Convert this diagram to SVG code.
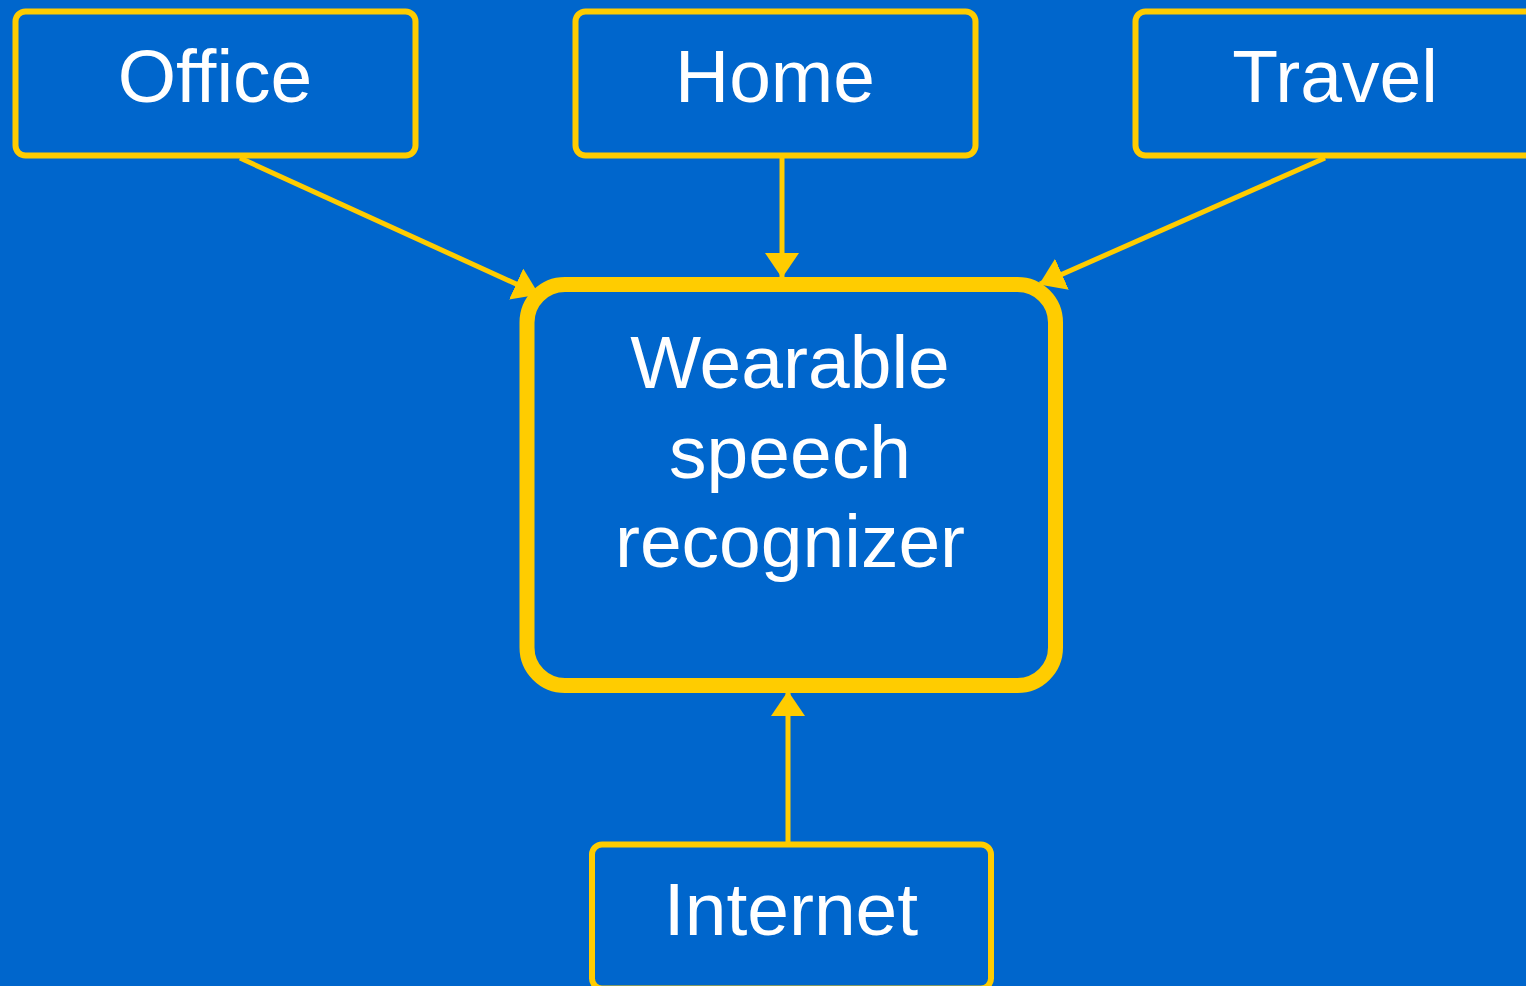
<svg xmlns="http://www.w3.org/2000/svg" width="1526" height="986" viewBox="0 0 1526 986">
<style>
.box{fill:#0066CC;stroke:#FFCC00;stroke-width:6}
.main{fill:#0066CC;stroke:#FFCC00;stroke-width:15}
.lbl{font-family:"Liberation Sans",Arial,sans-serif;font-size:75px;fill:#FFFFFF;text-anchor:middle}
.edge{stroke:#FFCC00;stroke-width:5;fill:none}
</style>
<defs>
<marker id="ah" markerUnits="userSpaceOnUse" viewBox="0 0 25 34" markerWidth="25" markerHeight="34" refX="24" refY="17" orient="auto">
<path d="M0,0 L25,17 L0,34 z" fill="#FFCC00"/>
</marker>
</defs>
<rect x="0" y="0" width="1526" height="986" fill="#0066CC"/>
<g id="connectors">
<line class="edge" x1="240" y1="158" x2="538" y2="294" marker-end="url(#ah)"/>
<line class="edge" x1="782" y1="158" x2="782" y2="277" marker-end="url(#ah)"/>
<line class="edge" x1="1325" y1="158" x2="1040" y2="284" marker-end="url(#ah)"/>
<line class="edge" x1="788" y1="844" x2="788" y2="692" marker-end="url(#ah)"/>
</g>
<g id="office">
<rect class="box" x="15.5" y="11.5" width="400" height="144" rx="10"/>
<text class="lbl" x="215" y="102">Office</text>
</g>
<g id="home">
<rect class="box" x="575.5" y="11.5" width="400" height="144" rx="10"/>
<text class="lbl" x="775" y="102">Home</text>
</g>
<g id="travel">
<rect class="box" x="1135.5" y="11.5" width="400" height="144" rx="10"/>
<text class="lbl" x="1335" y="102">Travel</text>
</g>
<g id="recognizer">
<rect class="main" x="527" y="284.5" width="528.5" height="401" rx="38"/>
<text class="lbl" x="790" y="388">Wearable</text>
<text class="lbl" x="790" y="478">speech</text>
<text class="lbl" x="790" y="567">recognizer</text>
</g>
<g id="internet">
<rect class="box" x="592" y="844.5" width="399" height="144" rx="10"/>
<text class="lbl" x="791" y="935">Internet</text>
</g>
</svg>
